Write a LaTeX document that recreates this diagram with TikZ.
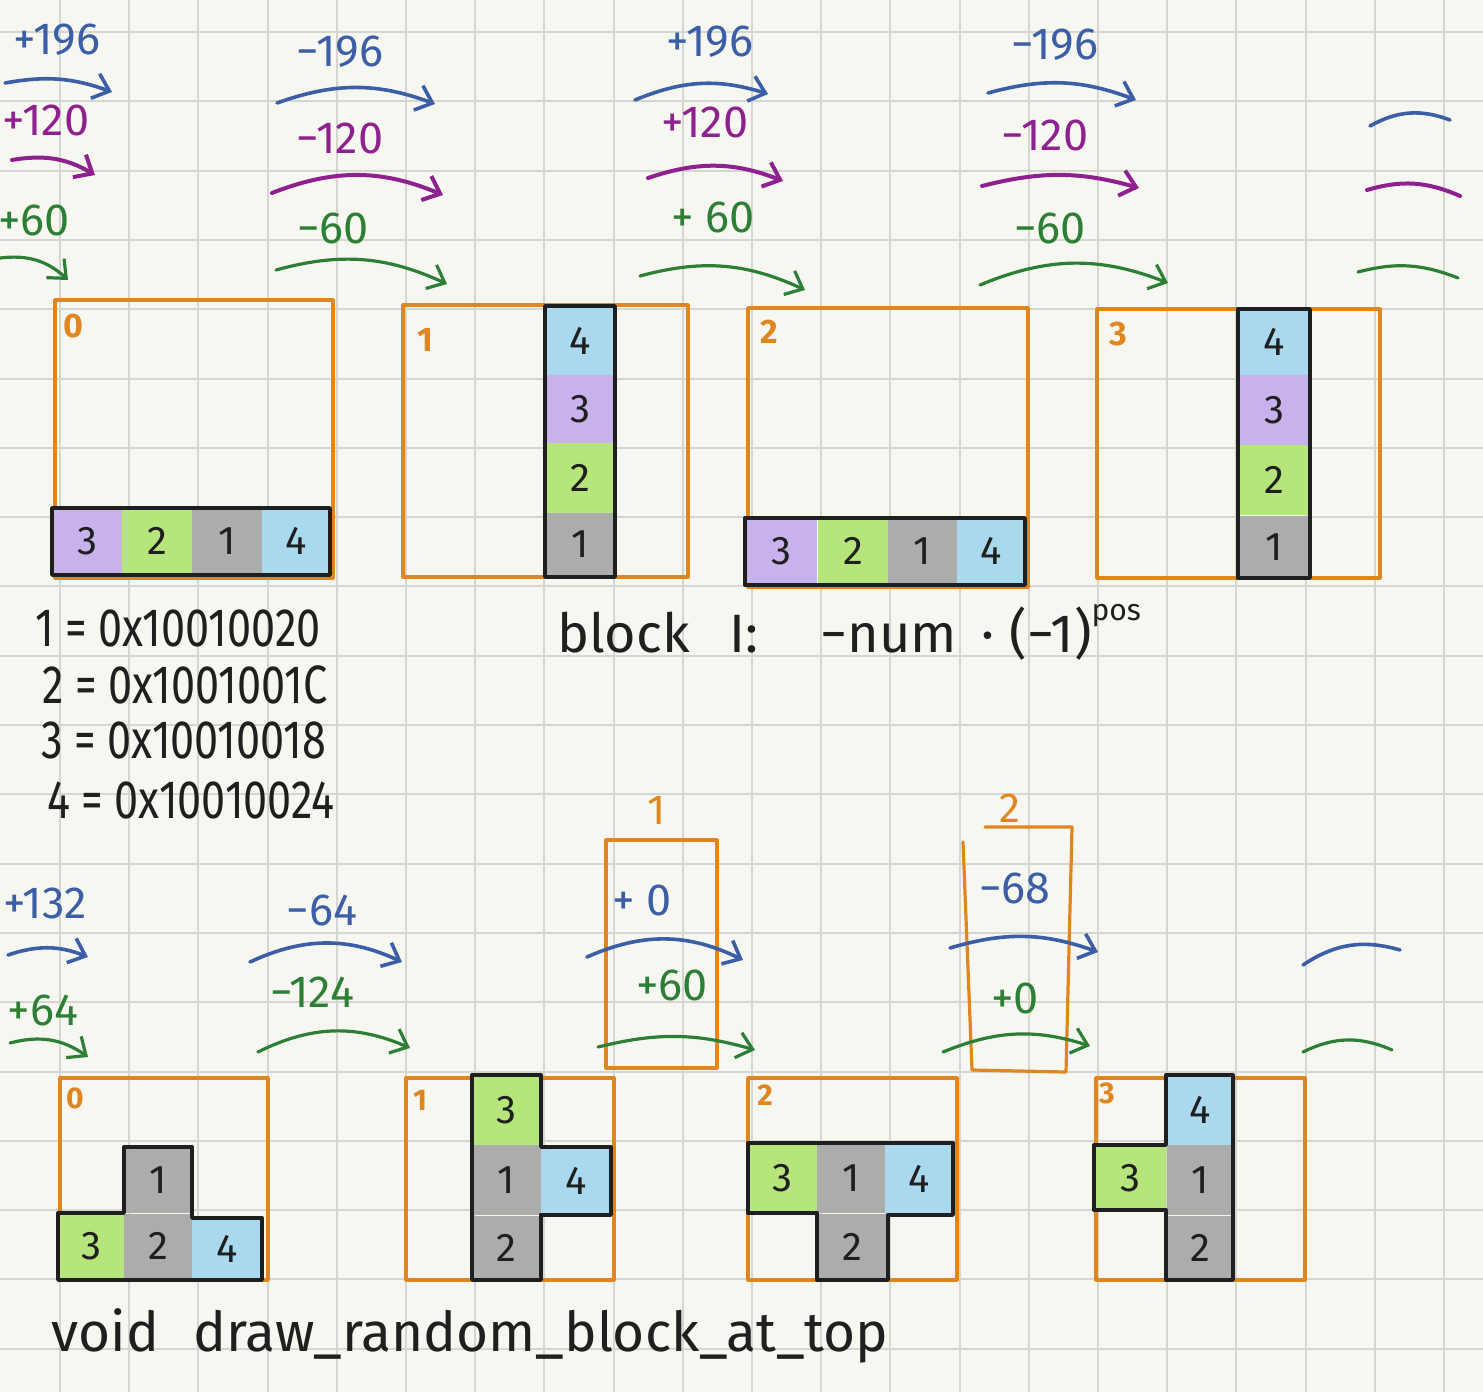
\documentclass[tikz,border=0pt]{standalone}
\usepackage{fontspec}
\setmainfont{Fira Sans}
\usepackage{graphicx}
\usetikzlibrary{arrows.meta}
\definecolor{bgc}{HTML}{F7F7F2}
\definecolor{gridc}{HTML}{D6D6D0}
\definecolor{corange}{HTML}{E0861F}
\definecolor{cblue}{HTML}{3B5EA6}
\definecolor{cpurple}{HTML}{8E2090}
\definecolor{cgreen}{HTML}{2E7F36}
\definecolor{kpurple}{HTML}{C7B2EC}
\definecolor{kgreen}{HTML}{B6E57B}
\definecolor{kgray}{HTML}{ACACAA}
\definecolor{kblue}{HTML}{A9D8EF}
\definecolor{ink}{HTML}{1F1F1F}
\newcommand\lblfont{\fontsize{45}{45}\selectfont}
\newcommand\numfont{\fontsize{40}{40}\selectfont}
\newcommand\boxfont{\fontsize{34}{34}\selectfont\bfseries}
\newcommand\hexfont{\fontsize{54}{54}\selectfont}
\begin{document}
\begin{tikzpicture}[x=1pt,y=-1pt,
  hand/.style={line width=3.6pt, line cap=round, line join=round},
  tipx/.style={-{Straight Barb[length=15pt,width=26pt]}},
  barrow/.style={hand, draw=cblue, tipx},
  parrow/.style={hand, line width=4pt, draw=cpurple, tipx},
  garrow/.style={hand, line width=3.2pt, draw=cgreen, tipx},
  barc/.style={hand, draw=cblue},
  parc/.style={hand, line width=4pt, draw=cpurple},
  garc/.style={hand, line width=3.2pt, draw=cgreen},
  blab/.style={inner sep=0pt, text=cblue, font=\lblfont},
  plab/.style={inner sep=0pt, text=cpurple, font=\lblfont},
  glab/.style={inner sep=0pt, text=cgreen, font=\lblfont},
  olab/.style={inner sep=0pt, text=corange, font=\boxfont},
  othin/.style={inner sep=0pt, text=corange, font=\fontsize{42}{42}\selectfont},
  board/.style={draw=corange, line width=3.2pt, line cap=round, line join=round},
  outline/.style={draw=ink, line width=3.4pt, line join=round, line cap=round},
  cellk/.style={inner sep=0pt, text=ink, font=\numfont, minimum width=68pt, minimum height=67pt},
  txt/.style={inner sep=0pt, text=ink}]
\useasboundingbox (0,0) rectangle (1483,1392);
\fill[bgc] (0,0) rectangle (1483,1392);
\foreach \i in {-1,...,20} \draw[gridc, line width=2pt] ({60+69.2*\i},0) -- ({60+69.2*\i},1392);
\foreach \j in {0,...,19} \draw[gridc, line width=2pt] (0,{32+69.3*\j}) -- (1483,{32+69.3*\j});

% ---------- top boards ----------
\draw[board] (55,300) rectangle (333,578);
\draw[board] (403,305) rectangle (688,577);
\draw[board] (748,308) rectangle (1028,587);
\draw[board] (1097,309) rectangle (1380,578);
\node[olab] (tb0) at (73,326) {0};
\node[olab] (tb1) at (425,340) {1};
\node[olab] (tb2) at (769,332) {2};
\node[olab] (tb3) at (1118,334) {3};

% board 0 row
\node[cellk, fill=kpurple, minimum width=70pt] (a3) at (87,541) {3};
\node[cellk, fill=kgreen, minimum width=70pt] (a2) at (157,541) {2};
\node[cellk, fill=kgray, minimum width=70pt] (a1) at (227,541) {1};
\node[cellk, fill=kblue, minimum width=68pt] (a4) at (296,541) {4};
\draw[outline] (52,508) rectangle (330,575);
% board 1 column
\node[cellk, fill=kblue, minimum width=70pt, minimum height=69pt] (b4) at (580,341) {4};
\node[cellk, fill=kpurple, minimum width=70pt, minimum height=68pt] (b3) at (580,409) {3};
\node[cellk, fill=kgreen, minimum width=70pt, minimum height=70pt] (b2) at (580,478) {2};
\node[cellk, fill=kgray, minimum width=70pt, minimum height=62pt] (b1) at (580,544) {1};
\draw[outline] (545,306) rectangle (615,577);
% board 2 row
\node[cellk, fill=kpurple, minimum width=72pt] (c3) at (781,551) {3};
\node[cellk, fill=kgreen, minimum width=71pt] (c2) at (853,551) {2};
\node[cellk, fill=kgray, minimum width=69pt] (c1) at (922,551) {1};
\node[cellk, fill=kblue, minimum width=68pt] (c4) at (991,551) {4};
\draw[outline] (745,518) rectangle (1025,585);
% board 3 column
\node[cellk, fill=kblue, minimum width=72pt, minimum height=66pt] (d4) at (1274,342) {4};
\node[cellk, fill=kpurple, minimum width=72pt, minimum height=70pt] (d3) at (1274,410) {3};
\node[cellk, fill=kgreen, minimum width=72pt, minimum height=70pt] (d2) at (1274,480) {2};
\node[cellk, fill=kgray, minimum width=72pt, minimum height=63pt] (d1) at (1274,547) {1};
\draw[outline] (1238,309) rectangle (1310,578);

% ---------- top arrows ----------
\node[blab] (la1) at (57,40) {+196};
\node[plab] (la2) at (46,120) {+120};
\node[glab] (la3) at (34,220) {+60};
\node[blab] (lb1) at (340,52) {−196};
\node[plab] (lb2) at (340,138) {−120};
\node[glab] (lb3) at (333,228) {−60};
\node[blab] (lc1) at (710,42) {+196};
\node[plab] (lc2) at (705,122) {+120};
\node[glab] (lc3) at (713,217) {+ 60};
\node[blab] (ld1) at (1055,45) {−196};
\node[plab] (ld2) at (1045,135) {−120};
\node[glab] (ld3) at (1050,228) {−60};

\coordinate (a1s) at (5,83);    \coordinate (a1e) at (112,92);
\coordinate (a2s) at (12,160);  \coordinate (a2e) at (95,175);
\coordinate (a3s) at (0,258);   \coordinate (a3e) at (68,280);
\coordinate (b1s) at (277,103); \coordinate (b1e) at (435,104);
\coordinate (b2s) at (272,193); \coordinate (b2e) at (443,195);
\coordinate (b3s) at (276,270); \coordinate (b3e) at (447,284);
\coordinate (c1s) at (635,100); \coordinate (c1e) at (768,94);
\coordinate (c2s) at (648,178); \coordinate (c2e) at (783,181);
\coordinate (c3s) at (640,276); \coordinate (c3e) at (805,290);
\coordinate (d1s) at (988,93);  \coordinate (d1e) at (1136,100);
\coordinate (d2s) at (982,186); \coordinate (d2e) at (1139,188);
\coordinate (d3s) at (980,285); \coordinate (d3e) at (1168,283);
\coordinate (e1s) at (1370,126); \coordinate (e1e) at (1450,120);
\coordinate (e2s) at (1367,190); \coordinate (e2e) at (1460,196);
\coordinate (e3s) at (1358,272); \coordinate (e3e) at (1458,278);

\draw[barrow] (a1s) to[bend left=15] (a1e);
\draw[parrow] (a2s) to[bend left=20] (a2e);
\draw[garrow] (a3s) to[bend left=25] (a3e);
\draw[barrow] (b1s) to[bend left=20] (b1e);
\draw[parrow] (b2s) to[bend left=22] (b2e);
\draw[garrow] (b3s) to[bend left=20] (b3e);
\draw[barrow] (c1s) to[bend left=20] (c1e);
\draw[parrow] (c2s) to[bend left=20] (c2e);
\draw[garrow] (c3s) to[bend left=20] (c3e);
\draw[barrow] (d1s) to[bend left=18] (d1e);
\draw[parrow] (d2s) to[bend left=15] (d2e);
\draw[garrow] (d3s) to[bend left=22] (d3e);
\draw[barc] (e1s) to[bend left=25] (e1e);
\draw[parc] (e2s) to[bend left=20] (e2e);
\draw[garc] (e3s) to[bend left=18] (e3e);

% ---------- addresses ----------
\node[txt, font=\hexfont] (h1) at (178,628) {\scalebox{0.8}[1]{1 = 0x10010020}};
\node[txt, font=\hexfont] (h2) at (185,685) {\scalebox{0.8}[1]{2 = 0x1001001C}};
\node[txt, font=\hexfont] (h3) at (184,740) {\scalebox{0.8}[1]{3 = 0x10010018}};
\node[txt, font=\hexfont] (h4) at (191,800) {\scalebox{0.8}[1]{4 = 0x10010024}};
\node[txt, font=\fontsize{54}{54}\selectfont, anchor=base west] (blk) at (557,652) {block\hspace{40pt}I:\hspace{62pt}−num\hspace{24pt}·\hspace{16pt}(−1)\raisebox{32pt}{\fontsize{30}{30}\selectfont pos}};

% ---------- bottom narrow boxes ----------
\node[othin] (nb1) at (657,810) {1};
\node[othin] (nb2) at (1010,808) {2};
\draw[board] (606,840) rectangle (717,1068);
\draw[board] (963,842) -- (972,1070) -- (1066,1072) -- (1072,827) -- (985,827);

% ---------- bottom arrows ----------
\node[blab] (ma1) at (45,903) {+132};
\node[glab] (ma2) at (43,1010) {+64};
\node[blab] (mb1) at (322,910) {−64};
\node[glab] (mb2) at (312,992) {−124};
\node[blab] (mc1) at (642,900) {+ 0};
\node[glab] (mc2) at (672,985) {+60};
\node[blab] (md1) at (1015,888) {−68};
\node[glab] (md2) at (1015,998) {+0};

\coordinate (p1s) at (8,955);    \coordinate (p1e) at (88,957);
\coordinate (p2s) at (10,1043);  \coordinate (p2e) at (88,1057);
\coordinate (q1s) at (250,962);  \coordinate (q1e) at (402,962);
\coordinate (q2s) at (258,1052); \coordinate (q2e) at (410,1048);
\coordinate (r1s) at (587,957);  \coordinate (r1e) at (743,960);
\coordinate (r2s) at (598,1047); \coordinate (r2e) at (755,1050);
\coordinate (s1s) at (950,948);  \coordinate (s1e) at (1098,952);
\coordinate (s2s) at (943,1052); \coordinate (s2e) at (1090,1046);
\coordinate (u1s) at (1303,965); \coordinate (u1e) at (1400,950);
\coordinate (u2s) at (1303,1052); \coordinate (u2e) at (1392,1050);

\draw[barrow] (p1s) to[bend left=20] (p1e);
\draw[garrow] (p2s) to[bend left=25] (p2e);
\draw[barrow] (q1s) to[bend left=25] (q1e);
\draw[garrow] (q2s) to[bend left=25] (q2e);
\draw[barrow] (r1s) to[bend left=25] (r1e);
\draw[garrow] (r2s) to[bend left=15] (r2e);
\draw[barrow] (s1s) to[bend left=18] (s1e);
\draw[garrow] (s2s) to[bend left=20] (s2e);
\draw[barc] (u1s) to[bend left=25] (u1e);
\draw[garc] (u2s) to[bend left=25] (u2e);

% ---------- bottom boards ----------
\draw[board] (60,1078) rectangle (268,1280);
\draw[board] (406,1078) rectangle (614,1280);
\draw[board] (748,1078) rectangle (957,1280);
\draw[board] (1096,1078) rectangle (1305,1280);
\node[olab, font=\fontsize{30}{30}\selectfont\bfseries] (bb0) at (75,1098) {0};
\node[olab, font=\fontsize{30}{30}\selectfont\bfseries] (bb1) at (420,1100) {1};
\node[olab, font=\fontsize{30}{30}\selectfont\bfseries] (bb2) at (765,1095) {2};
\node[olab, font=\fontsize{30}{30}\selectfont\bfseries] (bb3) at (1107,1093) {3};

% board 0
\node[cellk, fill=kgreen, minimum width=66pt, minimum height=65pt] (e3) at (91,1246) {3};
\node[cellk, fill=kgray, minimum width=68pt, minimum height=65pt] (e2) at (158,1246) {2};
\node[cellk, fill=kgray, minimum width=68pt, minimum height=66pt] (e1) at (158,1180) {1};
\node[cellk, fill=kblue, minimum width=70pt, minimum height=62pt] (e4) at (227,1249) {4};
\draw[outline] (58,1213) -- (124,1213) -- (124,1147) -- (192,1147) -- (192,1218) -- (262,1218) -- (262,1280) -- (58,1280) -- cycle;
% board 1
\node[cellk, fill=kgreen, minimum width=69pt, minimum height=70pt] (f3) at (506,1110) {3};
\node[cellk, fill=kgray, minimum width=69pt, minimum height=70pt] (f1) at (506,1180) {1};
\node[cellk, fill=kgray, minimum width=69pt, minimum height=65pt] (f2) at (506,1248) {2};
\node[cellk, fill=kblue, minimum width=70pt, minimum height=68pt] (f4) at (576,1181) {4};
\draw[outline] (472,1075) -- (541,1075) -- (541,1147) -- (611,1147) -- (611,1215) -- (541,1215) -- (541,1280) -- (472,1280) -- cycle;
% board 2
\node[cellk, fill=kgreen, minimum width=69pt, minimum height=70pt] (g3) at (782,1178) {3};
\node[cellk, fill=kgray, minimum width=68pt, minimum height=70pt] (g1) at (851,1178) {1};
\node[cellk, fill=kblue, minimum width=68pt, minimum height=72pt] (g4) at (919,1179) {4};
\node[cellk, fill=kgray, minimum width=71pt, minimum height=67pt] (g2) at (852,1247) {2};
\draw[outline] (748,1143) -- (953,1143) -- (953,1215) -- (888,1215) -- (888,1280) -- (817,1280) -- (817,1213) -- (748,1213) -- cycle;
% board 3
\node[cellk, fill=kblue, minimum width=67pt, minimum height=70pt] (h4b) at (1200,1110) {4};
\node[cellk, fill=kgreen, minimum width=72pt, minimum height=65pt] (h3b) at (1130,1178) {3};
\node[cellk, fill=kgray, minimum width=67pt, minimum height=70pt] (h1b) at (1200,1180) {1};
\node[cellk, fill=kgray, minimum width=67pt, minimum height=65pt] (h2b) at (1200,1248) {2};
\draw[outline] (1166,1075) -- (1233,1075) -- (1233,1280) -- (1166,1280) -- (1166,1210) -- (1094,1210) -- (1094,1145) -- (1166,1145) -- cycle;

% ---------- function name ----------
\node[txt, font=\fontsize{55}{55}\selectfont] (fn) at (470,1336) {void\hspace{34pt}draw\_random\_block\_at\_top};
\end{tikzpicture}
\end{document}
